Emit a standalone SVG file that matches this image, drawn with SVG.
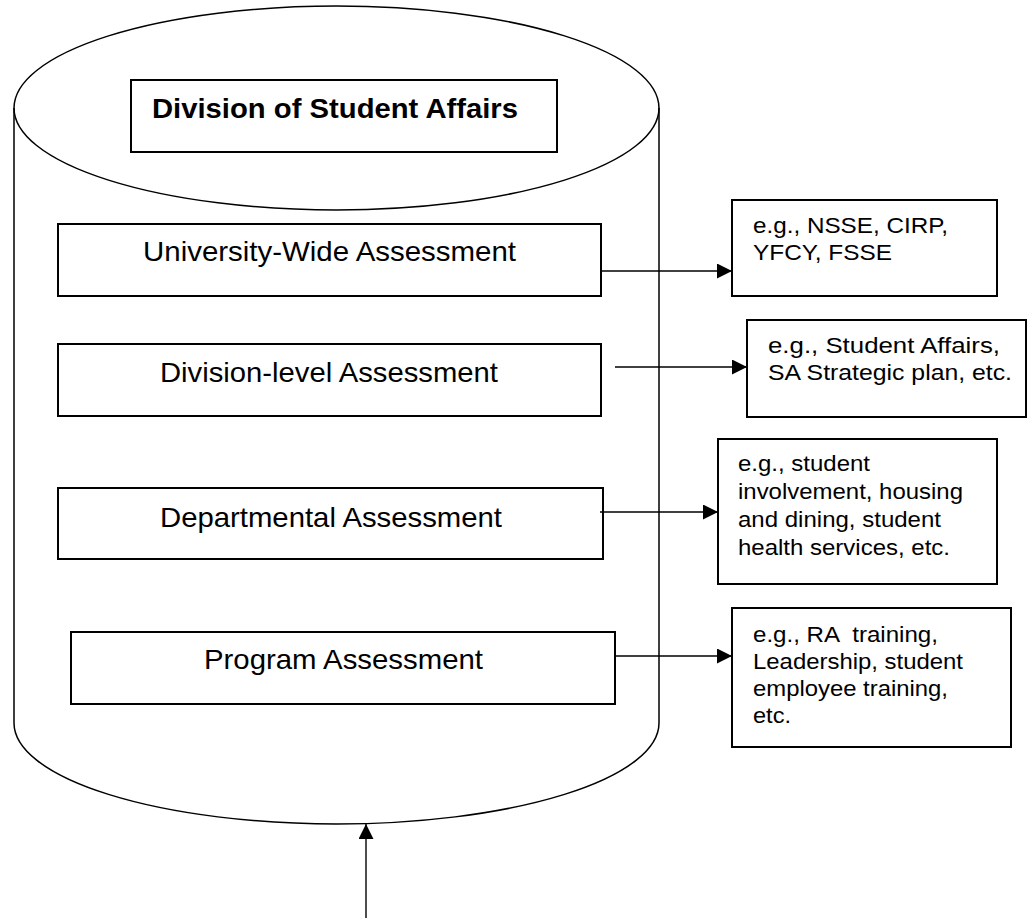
<svg xmlns="http://www.w3.org/2000/svg" width="1027" height="918" viewBox="0 0 1027 918">
<style>
.bg{fill:#ffffff}
.cyl{fill:none;stroke:#000;stroke-width:1.5}
.box{fill:#fff;stroke:#000;stroke-width:2}
.lbl{font-family:"Liberation Sans",Arial,sans-serif;font-size:28px;fill:#000}
.bold{font-weight:bold}
.note{font-family:"Liberation Sans",Arial,sans-serif;font-size:22.5px;fill:#000}
.conn{fill:none;stroke:#000;stroke-width:1.4}
</style>
<defs>
<marker id="arr" viewBox="0 0 15 15" refX="15" refY="7.5" markerWidth="15" markerHeight="15" markerUnits="userSpaceOnUse" orient="auto">
<path d="M0,0 L15,7.5 L0,15 Z" fill="#000"/>
</marker>
</defs>
<rect class="bg" x="0" y="0" width="1027" height="918"/>
<g id="cylinder">
<path class="cyl" d="M14,108 A322.5,102 0 0 1 659,108 A322.5,102 0 0 1 14,108 Z"/>
<path class="cyl" d="M14,108 L14,723 A322.5,101 0 0 0 659,723 L659,108"/>
</g>
<g id="division-of-student-affairs">
<rect class="box" x="131" y="80" width="426" height="72"/>
<text class="lbl bold" x="152" y="118" textLength="366" lengthAdjust="spacingAndGlyphs">Division of Student Affairs</text>
</g>
<g id="university-wide">
<rect class="box" x="58" y="224" width="543" height="72"/>
<text class="lbl" x="143" y="261" textLength="373" lengthAdjust="spacingAndGlyphs">University-Wide Assessment</text>
</g>
<g id="division-level">
<rect class="box" x="58" y="344" width="543" height="72"/>
<text class="lbl" x="160" y="382" textLength="338" lengthAdjust="spacingAndGlyphs">Division-level Assessment</text>
</g>
<g id="departmental">
<rect class="box" x="58" y="488" width="545" height="71"/>
<text class="lbl" x="160" y="527" textLength="342" lengthAdjust="spacingAndGlyphs">Departmental Assessment</text>
</g>
<g id="program">
<rect class="box" x="71" y="632" width="544" height="72"/>
<text class="lbl" x="204" y="669" textLength="279" lengthAdjust="spacingAndGlyphs">Program Assessment</text>
</g>
<g id="ex-university">
<rect class="box" x="732" y="200" width="265" height="96"/>
<text class="note" x="753" y="233" textLength="195" lengthAdjust="spacingAndGlyphs">e.g., NSSE, CIRP,</text>
<text class="note" x="753" y="260" textLength="139" lengthAdjust="spacingAndGlyphs">YFCY, FSSE</text>
</g>
<g id="ex-division">
<rect class="box" x="747" y="320" width="279" height="97"/>
<text class="note" x="768" y="353" textLength="232" lengthAdjust="spacingAndGlyphs">e.g., Student Affairs,</text>
<text class="note" x="768" y="380" textLength="244" lengthAdjust="spacingAndGlyphs">SA Strategic plan, etc.</text>
</g>
<g id="ex-departmental">
<rect class="box" x="718" y="439" width="279" height="145"/>
<text class="note" x="738" y="471" textLength="132" lengthAdjust="spacingAndGlyphs">e.g., student</text>
<text class="note" x="738" y="499" textLength="225" lengthAdjust="spacingAndGlyphs">involvement, housing</text>
<text class="note" x="738" y="527" textLength="203" lengthAdjust="spacingAndGlyphs">and dining, student</text>
<text class="note" x="738" y="555" textLength="212" lengthAdjust="spacingAndGlyphs">health services, etc.</text>
</g>
<g id="ex-program">
<rect class="box" x="732" y="608" width="279" height="139"/>
<text class="note" x="753" y="642" textLength="185" lengthAdjust="spacingAndGlyphs" xml:space="preserve">e.g., RA  training,</text>
<text class="note" x="753" y="669" textLength="210" lengthAdjust="spacingAndGlyphs">Leadership, student</text>
<text class="note" x="753" y="696" textLength="195" lengthAdjust="spacingAndGlyphs">employee training,</text>
<text class="note" x="753" y="723" textLength="38" lengthAdjust="spacingAndGlyphs">etc.</text>
</g>
<g id="connectors">
<line class="conn" x1="601" y1="271" x2="732" y2="271" marker-end="url(#arr)"/>
<line class="conn" x1="615" y1="367" x2="747" y2="367" marker-end="url(#arr)"/>
<line class="conn" x1="600" y1="512" x2="718" y2="512" marker-end="url(#arr)"/>
<line class="conn" x1="615" y1="656" x2="732" y2="656" marker-end="url(#arr)"/>
<line class="conn" x1="366" y1="918" x2="366" y2="824" marker-end="url(#arr)"/>
</g>
</svg>
